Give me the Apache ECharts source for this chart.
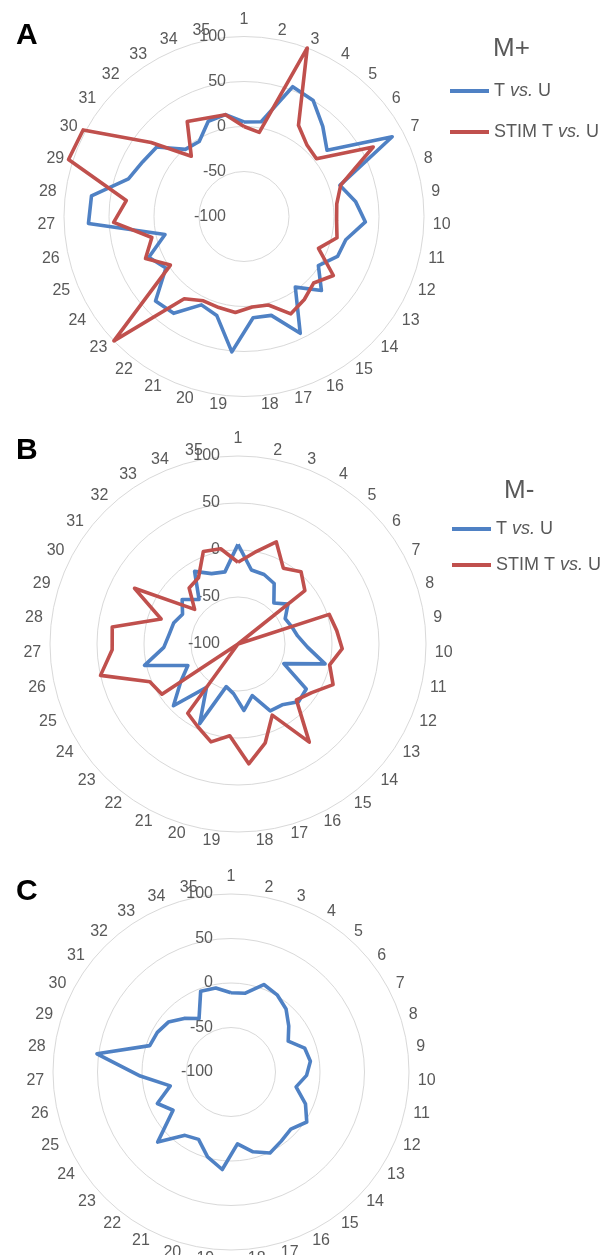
<!DOCTYPE html>
<html>
<head>
<meta charset="utf-8">
<script src="https://cdn.jsdelivr.net/npm/echarts@6/dist/echarts.min.js"></script>
<style>
html,body{margin:0;padding:0;background:#ffffff;}
#chart{width:613px;height:1255px;}
</style>
</head>
<body>
<div id="chart"></div>
<script>
// ---- data ----
const categories = ['1','2','3','4','5','6','7','8','9','10','11','12','13','14','15','16','17','18','19','20','21','22','23','24','25','26','27','28','29','30','31','32','33','34','35'];
const axisMin = -100;
const axisMax = 100;
const axisSplits = 4; // ticks: -100, -50, 0, 50, 100
const seriesNames = ['T vs. U', 'STIM T vs. U'];
const panelLetters = ['A', 'B', 'C'];
const legendTitles = ['M+', 'M-'];

// Panel A (M+)
const aBlue = [5, 7, 54, 50, 33, 18, 87, 12, 25, 35, 16, 13, -1, 19, -3, 44, 14, 13, 51, 14, 9, 33, 36, 4, 15, -10, 73, 71, 35, 28, 24, -1, -3, 13, 15];
const aRed  = [0, -5, 100, 18, 6, 3, 63, 13, 4, 3, 6, -10, 19, 7, 14, 20, 2, 1, 7, 5, 4, 13, 100, -2, 19, 5, 45, 32, 105, 103, 32, -11, 23, 17, 15];
// Panel B (M-)
const bBlue = [6, -20, -21, -25, -42, -32, -43, -40, -36, -26, -5, -47, -13, -11, -20, -21, -43, -29, -47, -53, -6, -43, -5, -27, -42, 2, -21, -26, -28, -33, -24, -37, -10, -20, -22];
const bRed  = [-13, -1, 16, -6, 2, -9, -100, 2, 6, 11, 0, 10, -6, -14, 29, -16, 9, 28, -2, 8, -2, -9, -100, -3, 2, 50, 34, 35, -14, 25, -41, -21, -18, 5, 3];
// Panel C
const cBlue = [-11, -10, 5, 1, -6, -17, -27, -13, -10, -15, -25, -9, 2, -7, -4, 1, -7, -19, 10, -1, -16, -12, 14, -22, -10, -30, 2, 52, -4, -6, -10, -20, -30, -3, -4];

// ---- styling ----
const BLUE = '#4F81C4';
const RED = '#C0504D';
const GREY = '#595959';
const FONT = 'Liberation Sans, Arial, sans-serif';

// ECharts radar runs counter-clockwise; reorder so categories run clockwise from top
function cw(arr) { return [arr[0]].concat(arr.slice(1).reverse()); }

function makeRadar(center, radius) {
  const names = cw(categories);
  return {
    center: center,
    radius: radius,
    startAngle: 90,
    shape: 'circle',
    splitNumber: axisSplits,
    nameGap: 9,
    axisName: { color: GREY, fontSize: 16, fontFamily: FONT },
    splitLine: { lineStyle: { color: '#D9D9D9', width: 1 } },
    splitArea: { show: false },
    axisLine: { show: false },
    axisTick: { show: false },
    axisLabel: { show: false },
    indicator: names.map(function (n, i) {
      const ind = { name: n, min: axisMin, max: axisMax };
      if (i === 0) {
        ind.axisLabel = { show: true, color: GREY, fontSize: 16, fontFamily: FONT, margin: 18, showMinLabel: true, showMaxLabel: true };
      }
      return ind;
    })
  };
}

function radarSeries(radarIndex, name, values, color) {
  return {
    type: 'radar',
    radarIndex: radarIndex,
    name: name,
    symbol: 'none',
    silent: true,
    itemStyle: { color: color },
    lineStyle: { color: color, width: 3.6 },
    data: [{ value: cw(values), name: name }]
  };
}

const chart = echarts.init(document.getElementById('chart'), null, { renderer: 'canvas' });

const legendCommon = {
  orient: 'vertical',
  icon: 'rect',
  itemWidth: 39,
  itemHeight: 4,
  selectedMode: false,
  data: seriesNames,
  formatter: function (name) { return name.replace('vs.', '{i|vs.}'); },
  textStyle: {
    color: GREY, fontSize: 18, fontFamily: FONT,
    rich: { i: { fontStyle: 'italic', color: GREY, fontSize: 18, fontFamily: FONT } }
  }
};

chart.setOption({
  backgroundColor: '#ffffff',
  animation: false,
  title: [
    { text: panelLetters[0], left: 11, top: 16, textStyle: { fontSize: 30, fontWeight: 'bold', color: '#000', fontFamily: FONT } },
    { text: panelLetters[1], left: 11, top: 431, textStyle: { fontSize: 30, fontWeight: 'bold', color: '#000', fontFamily: FONT } },
    { text: panelLetters[2], left: 11, top: 872, textStyle: { fontSize: 30, fontWeight: 'bold', color: '#000', fontFamily: FONT } },
    { text: legendTitles[0], left: 488, top: 31, textStyle: { fontSize: 26, fontWeight: 'normal', color: GREY, fontFamily: FONT } },
    { text: legendTitles[1], left: 499, top: 473, textStyle: { fontSize: 26, fontWeight: 'normal', color: GREY, fontFamily: FONT } }
  ],
  legend: [
    Object.assign({}, legendCommon, { left: 445, top: 77, itemGap: 23 }),
    Object.assign({}, legendCommon, { left: 447, top: 515, itemGap: 18 })
  ],
  radar: [
    makeRadar([244, 216.5], 180),
    makeRadar([238, 644], 188),
    makeRadar([231, 1072], 178)
  ],
  series: [
    radarSeries(0, seriesNames[0], aBlue, BLUE),
    radarSeries(0, seriesNames[1], aRed, RED),
    radarSeries(1, seriesNames[0], bBlue, BLUE),
    radarSeries(1, seriesNames[1], bRed, RED),
    radarSeries(2, seriesNames[0], cBlue, BLUE)
  ]
});
</script>
</body>
</html>
